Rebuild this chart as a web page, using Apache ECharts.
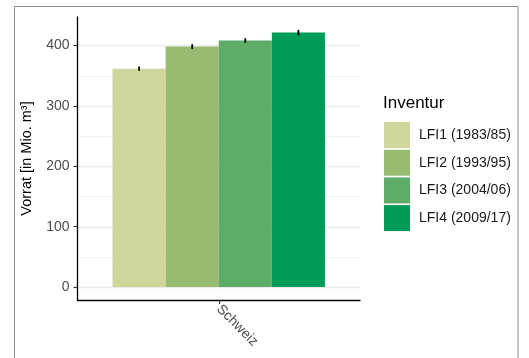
<!DOCTYPE html>
<html>
<head>
<meta charset="utf-8">
<script src="https://cdn.jsdelivr.net/npm/echarts@6/dist/echarts.min.js"></script>
<style>html,body{margin:0;padding:0;background:#fff}#c{width:529px;height:358px}</style>
</head>
<body>
<div id="c"></div>
<script>
var categories = ['Schweiz'];
var seriesNames = ['LFI1 (1983/85)', 'LFI2 (1993/95)', 'LFI3 (2004/06)', 'LFI4 (2009/17)'];
var values = [361.4, 397.8, 407.8, 421.0];
var errors = [3.5, 4.0, 3.8, 4.5];
var colors = ['#d0d59b', '#98ba71', '#5dac68', '#009c57'];
var yTicks = [0, 100, 200, 300, 400];
var yMinorGrid = [50, 150, 250, 350];

var FONT = 'Liberation Sans, Arial, sans-serif';
var GAP = 0.248;
var chart = echarts.init(document.getElementById('c'), null, {renderer: 'canvas'});

var series = [];
// grid lines (behind bars)
var gridData = yTicks.map(function (v) { return [0, v, 1]; })
  .concat(yMinorGrid.map(function (v) { return [0, v, 0]; }));
series.push({
  type: 'custom', z: 0, silent: true, animation: false,
  encode: {x: 0, y: 1},
  data: gridData,
  renderItem: function (params, api) {
    var p = api.coord([api.value(0), api.value(1)]);
    var cs = params.coordSys;
    var major = api.value(2) === 1;
    var y = Math.round(p[1]) + 0.5;
    return {
      type: 'line',
      shape: {x1: cs.x, y1: y, x2: cs.x + cs.width, y2: y},
      style: {stroke: major ? '#ebebeb' : '#f2f2f2', lineWidth: major ? 1.4 : 1}
    };
  }
});
seriesNames.forEach(function (name, i) {
  series.push({
    type: 'bar', name: name, data: [values[i]], z: 2,
    itemStyle: {color: colors[i]},
    barGap: '0%', barCategoryGap: (GAP * 100) + '%',
    animation: false
  });
});
var errData = values.map(function (v, i) { return [0, v - errors[i], v + errors[i], i]; });
series.push({
  type: 'custom', z: 5, silent: true, animation: false,
  encode: {x: 0, y: [1, 2]},
  data: errData,
  renderItem: function (params, api) {
    var idx = api.value(3);
    var lo = api.coord([api.value(0), api.value(1)]);
    var hi = api.coord([api.value(0), api.value(2)]);
    var catW = api.size([1, 0])[0];
    var bw = catW * (1 - GAP) / seriesNames.length;
    var x = lo[0] + (idx - (seriesNames.length - 1) / 2) * bw;
    return {
      type: 'line',
      shape: {x1: x, y1: lo[1], x2: x, y2: hi[1]},
      style: {stroke: '#000', lineWidth: 1.8}
    };
  }
});

chart.setOption({
  animation: false,
  backgroundColor: '#fff',
  textStyle: {fontFamily: FONT},
  title: {
    text: 'Inventur', left: 378, top: 90,
    textStyle: {fontFamily: FONT, fontSize: 17, fontWeight: 'normal', color: '#000'}
  },
  legend: {
    orient: 'vertical', left: 379, top: 117,
    itemWidth: 26, itemHeight: 26, itemGap: 1.7,
    icon: 'rect',
    data: seriesNames,
    textStyle: {fontFamily: FONT, fontSize: 14, color: '#1a1a1a', padding: [0, 0, 0, 4]}
  },
  grid: {left: 77.5, right: 169, top: 17, bottom: 58, containLabel: false},
  xAxis: {
    type: 'category', data: categories,
    axisLine: {onZero: false, lineStyle: {color: '#000', width: 1.3}},
    axisTick: {show: true, alignWithLabel: true, length: 4, lineStyle: {color: '#333', width: 1.2}},
    axisLabel: {rotate: -45, fontSize: 14, color: '#4d4d4d', margin: 7, fontFamily: FONT},
    splitLine: {show: false}
  },
  yAxis: {
    type: 'value', min: -21.3, max: 446.8,
    name: 'Vorrat [in Mio. m³]', nameLocation: 'middle', nameGap: 43, nameRotate: 90,
    nameTextStyle: {fontFamily: FONT, fontSize: 14.5, color: '#000'},
    axisLine: {show: true, lineStyle: {color: '#000', width: 1.3}},
    axisTick: {show: true, length: 4, customValues: yTicks, lineStyle: {color: '#333', width: 1.2}},
    axisLabel: {fontSize: 14, color: '#4d4d4d', margin: 8, fontFamily: FONT, customValues: yTicks},
    splitLine: {show: false}
  },
  graphic: [{
    type: 'rect', silent: true, z: 100,
    shape: {x: 14.5, y: 6.5, width: 503.5, height: 353},
    style: {fill: 'none', stroke: '#8c8c8c', lineWidth: 1}
  }],
  series: series
});
</script>
</body>
</html>
